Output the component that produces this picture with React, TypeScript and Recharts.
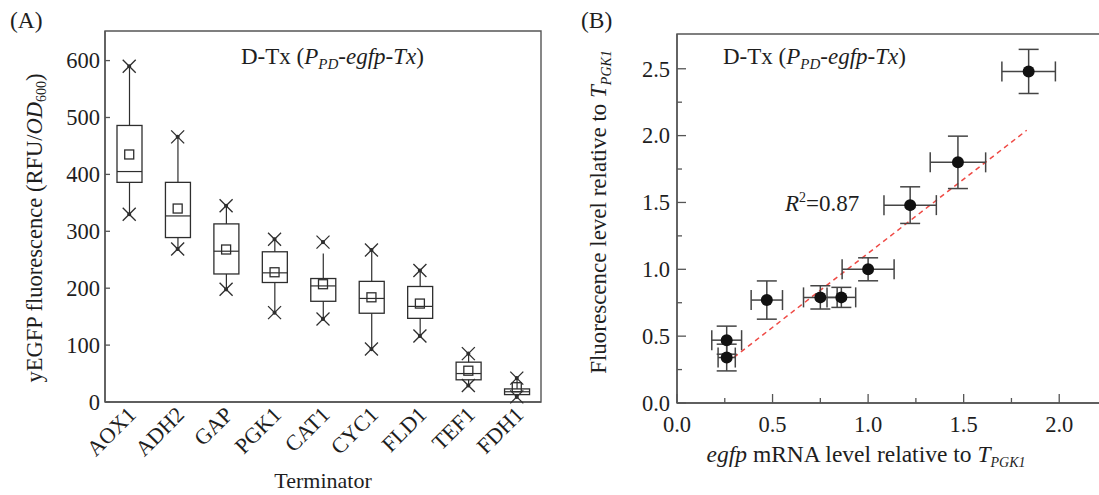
import React from 'react';
import {
  ComposedChart,
  ScatterChart,
  Bar,
  Scatter,
  XAxis,
  YAxis,
  ErrorBar,
  ReferenceArea,
  ReferenceLine,
} from 'recharts';

const FONT = '"Liberation Serif", "Times New Roman", serif';
const INK = '#2e2e2e';
const FRAME = '#555';
const TEXT = '#1e1e1e';
const TICK_FS = 22.5;

// (A) yEGFP fluorescence per terminator: box = Q1..Q3, line = median,
// square = mean, crosses = min / max
const terminators = ['AOX1', 'ADH2', 'GAP', 'PGK1', 'CAT1', 'CYC1', 'FLD1', 'TEF1', 'FDH1'];
const boxQ1 = [386, 289, 225, 210, 177, 156, 147, 39, 13];
const boxMedian = [405, 327, 265, 227, 204, 182, 168, 50, 18];
const boxQ3 = [486, 386, 313, 264, 217, 212, 203, 70, 23];
const boxMean = [435, 340, 268, 228, 207, 184, 173, 55, 26];
const whiskerLow = [330, 269, 198, 157, 146, 93, 116, 29, 9];
const whiskerHigh = [590, 466, 345, 286, 261, 267, 231, 85, 42];
const starLow = [330, 269, 198, 157, 146, 93, 116, 29, 9];
const starHigh = [590, 466, 345, 286, 281, 267, 231, 85, 42];
const yTicksA = [0, 100, 200, 300, 400, 500, 600];

// (B) fluorescence vs mRNA level, both relative to T_PGK1
const mrnaLevel = [1.84, 1.47, 1.22, 1.0, 0.86, 0.75, 0.47, 0.26, 0.26];
const fluorLevel = [2.48, 1.8, 1.48, 1.0, 0.79, 0.79, 0.77, 0.47, 0.34];
const mrnaErr = [0.14, 0.145, 0.137, 0.136, 0.075, 0.088, 0.082, 0.078, 0.045];
const fluorErr = [0.165, 0.196, 0.137, 0.086, 0.075, 0.087, 0.143, 0.105, 0.1];
const fitX = [0.26, 1.83];
const fitY = [0.3, 2.04];
const xTicksB = [0, 0.25, 0.5, 0.75, 1.0, 1.25, 1.5, 1.75, 2.0];
const yTicksB = [0, 0.25, 0.5, 0.75, 1.0, 1.25, 1.5, 1.75, 2.0, 2.25, 2.5];

const boxData = terminators.map((name, i) => ({
  name,
  whisker: [whiskerLow[i], whiskerHigh[i]],
  q1: boxQ1[i],
  median: boxMedian[i],
  q3: boxQ3[i],
  mean: boxMean[i],
  starLow: starLow[i],
  starHigh: starHigh[i],
}));

const pointData = mrnaLevel.map((x, i) => ({
  x,
  y: fluorLevel[i],
  ex: mrnaErr[i],
  ey: fluorErr[i],
}));

// whisker + box + median, placed inside the bar that spans the whisker range
function BoxShape(props: any) {
  const { x, y, width, height, payload } = props;
  const [lo, hi] = payload.whisker;
  const top = Math.min(y, y + height);
  const h = Math.abs(height);
  const py = (v: number) => top + ((hi - v) / (hi - lo)) * h;
  const cx = x + width / 2;
  return (
    <g>
      <line x1={cx} x2={cx} y1={py(hi)} y2={py(lo)} stroke={INK} strokeWidth={1.2} />
      <rect
        x={x}
        y={py(payload.q3)}
        width={width}
        height={py(payload.q1) - py(payload.q3)}
        fill="#fff"
        stroke={INK}
        strokeWidth={1.3}
      />
      <line x1={x} x2={x + width} y1={py(payload.median)} y2={py(payload.median)} stroke={INK} strokeWidth={1.2} />
    </g>
  );
}

function Cross({ cx, cy }: any) {
  const s = 6.5;
  return (
    <g stroke={INK} strokeWidth={1.3}>
      <line x1={cx - s} y1={cy - s} x2={cx + s} y2={cy + s} />
      <line x1={cx - s} y1={cy + s} x2={cx + s} y2={cy - s} />
      <circle cx={cx} cy={cy} r={1.4} fill={INK} />
    </g>
  );
}

function MeanSquare({ cx, cy }: any) {
  return <rect x={cx - 4.5} y={cy - 4.5} width={9} height={9} fill="none" stroke={INK} strokeWidth={1.3} />;
}

function Dot({ cx, cy }: any) {
  return <circle cx={cx} cy={cy} r={6} fill="#111" />;
}

function YTickA({ x, y, payload }: any) {
  return (
    <g>
      <line x1={x} x2={x + 5} y1={y} y2={y} stroke={FRAME} strokeWidth={1.3} />
      <text x={x - 5} y={y} dy="0.35em" textAnchor="end" fontFamily={FONT} fontSize={TICK_FS} fill={TEXT}>
        {payload.value}
      </text>
    </g>
  );
}

function XTickA({ x, y, payload }: any) {
  const tx = x + 8;
  const ty = y + 14;
  return (
    <text
      x={tx}
      y={ty}
      transform={`rotate(-45 ${tx} ${ty})`}
      textAnchor="end"
      fontFamily={FONT}
      fontSize={22}
      fill={TEXT}
    >
      {payload.value}
    </text>
  );
}

const isMajor = (v: number) => Math.abs(v * 2 - Math.round(v * 2)) < 1e-6;

function XTickB({ x, y, payload }: any) {
  const major = isMajor(payload.value);
  return (
    <g>
      <line x1={x} x2={x} y1={y} y2={y - (major ? 9 : 5)} stroke={FRAME} strokeWidth={1.3} />
      {major && (
        <text x={x} y={y + 29} textAnchor="middle" fontFamily={FONT} fontSize={TICK_FS} fill={TEXT}>
          {payload.value.toFixed(1)}
        </text>
      )}
    </g>
  );
}

function YTickB({ x, y, payload }: any) {
  const major = isMajor(payload.value);
  return (
    <g>
      <line x1={x} x2={x + (major ? 9 : 5)} y1={y} y2={y} stroke={FRAME} strokeWidth={1.3} />
      {major && (
        <text x={x - 7} y={y} dy="0.35em" textAnchor="end" fontFamily={FONT} fontSize={TICK_FS} fill={TEXT}>
          {payload.value.toFixed(1)}
        </text>
      )}
    </g>
  );
}

function BoxPanel() {
  return (
    <ComposedChart
      width={560}
      height={495}
      data={boxData}
      margin={{ top: 31, right: 19, bottom: 23, left: 45 }}
    >
      <ReferenceArea x1="AOX1" x2="FDH1" y1={0} y2={652} fill="none" stroke={FRAME} strokeWidth={1.4} />
      <XAxis
        dataKey="name"
        type="category"
        height={70}
        interval={0}
        tickSize={0}
        tickMargin={0}
        tickLine={false}
        axisLine={{ stroke: FRAME, strokeWidth: 1.4 }}
        tick={<XTickA />}
      />
      <YAxis
        type="number"
        domain={[0, 652]}
        ticks={yTicksA}
        interval={0}
        width={60}
        tickSize={0}
        tickMargin={0}
        tickLine={false}
        axisLine={{ stroke: FRAME, strokeWidth: 1.4 }}
        tick={<YTickA />}
      />
      <Bar dataKey="whisker" barSize={25} shape={<BoxShape />} isAnimationActive={false} />
      <Scatter dataKey="mean" shape={<MeanSquare />} isAnimationActive={false} />
      <Scatter dataKey="starHigh" shape={<Cross />} isAnimationActive={false} />
      <Scatter dataKey="starLow" shape={<Cross />} isAnimationActive={false} />
    </ComposedChart>
  );
}

function ScatterPanel() {
  return (
    <ScatterChart width={580} height={495} margin={{ top: 34, right: 33, bottom: 32, left: 57 }}>
      <ReferenceArea x1={0} x2={2.25} y1={0} y2={2.76} fill="none" stroke={FRAME} strokeWidth={1.4} />
      <XAxis
        type="number"
        dataKey="x"
        domain={[0, 2.25]}
        ticks={xTicksB}
        interval={0}
        height={60}
        tickSize={0}
        tickMargin={0}
        tickLine={false}
        axisLine={{ stroke: FRAME, strokeWidth: 1.4 }}
        tick={<XTickB />}
      />
      <YAxis
        type="number"
        dataKey="y"
        domain={[0, 2.76]}
        ticks={yTicksB}
        interval={0}
        width={60}
        tickSize={0}
        tickMargin={0}
        tickLine={false}
        axisLine={{ stroke: FRAME, strokeWidth: 1.4 }}
        tick={<YTickB />}
      />
      <ReferenceLine
        segment={[
          { x: fitX[0], y: fitY[0] },
          { x: fitX[1], y: fitY[1] },
        ]}
        stroke="#ef4a45"
        strokeWidth={1.5}
        strokeDasharray="5 4"
      />
      <Scatter data={pointData} shape={<Dot />} isAnimationActive={false}>
        <ErrorBar dataKey="ex" direction="x" width={10} stroke="#444" strokeWidth={1.5} />
        <ErrorBar dataKey="ey" direction="y" width={10} stroke="#444" strokeWidth={1.5} />
      </Scatter>
    </ScatterChart>
  );
}

export default function App() {
  return (
    <div
      style={{
        position: 'fixed',
        left: 0,
        top: 0,
        width: 1099,
        height: 495,
        overflow: 'hidden',
        background: '#fff',
      }}
    >
      <div style={{ position: 'absolute', left: 0, top: 0 }}>
        <BoxPanel />
      </div>
      <div style={{ position: 'absolute', left: 560, top: 0 }}>
        <ScatterPanel />
      </div>
      <svg
        width={1099}
        height={495}
        style={{ position: 'absolute', left: 0, top: 0, pointerEvents: 'none' }}
        fontFamily={FONT}
        fill={TEXT}
      >
        <text x={10} y={28} fontSize={23.5}>(A)</text>
        <text x={581} y={28} fontSize={23.5}>(B)</text>

        <text x={241} y={64} fontSize={23}>
          D-Tx (<tspan fontStyle="italic">P</tspan>
          <tspan fontStyle="italic" fontSize={15} dy={5}>PD</tspan>
          <tspan fontStyle="italic" dy={-5}>-egfp-Tx</tspan>)
        </text>
        <text x={723} y={64} fontSize={23}>
          D-Tx (<tspan fontStyle="italic">P</tspan>
          <tspan fontStyle="italic" fontSize={15} dy={5}>PD</tspan>
          <tspan fontStyle="italic" dy={-5}>-egfp-Tx</tspan>)
        </text>

        <text x={785} y={211} fontSize={23}>
          <tspan fontStyle="italic">R</tspan>
          <tspan fontSize={14} dy={-9}>2</tspan>
          <tspan dy={9}>=0.87</tspan>
        </text>

        <text x={42} y={228} fontSize={22.5} textAnchor="middle" transform="rotate(-90 42 228)">
          yEGFP fluorescence (RFU/<tspan fontStyle="italic">OD</tspan>
          <tspan fontSize={14} dy={4}>600</tspan>
          <tspan dy={-4}>)</tspan>
        </text>
        <text x={323} y={488} fontSize={22} textAnchor="middle">Terminator</text>

        <text x={606} y={212} fontSize={23} textAnchor="middle" transform="rotate(-90 606 212)">
          Fluorescence level relative to <tspan fontStyle="italic">T</tspan>
          <tspan fontStyle="italic" fontSize={14} dy={5}>PGK1</tspan>
        </text>
        <text x={866} y={462} fontSize={23.5} textAnchor="middle">
          <tspan fontStyle="italic">egfp</tspan> mRNA level relative to <tspan fontStyle="italic">T</tspan>
          <tspan fontStyle="italic" fontSize={14} dy={5}>PGK1</tspan>
        </text>
      </svg>
    </div>
  );
}
